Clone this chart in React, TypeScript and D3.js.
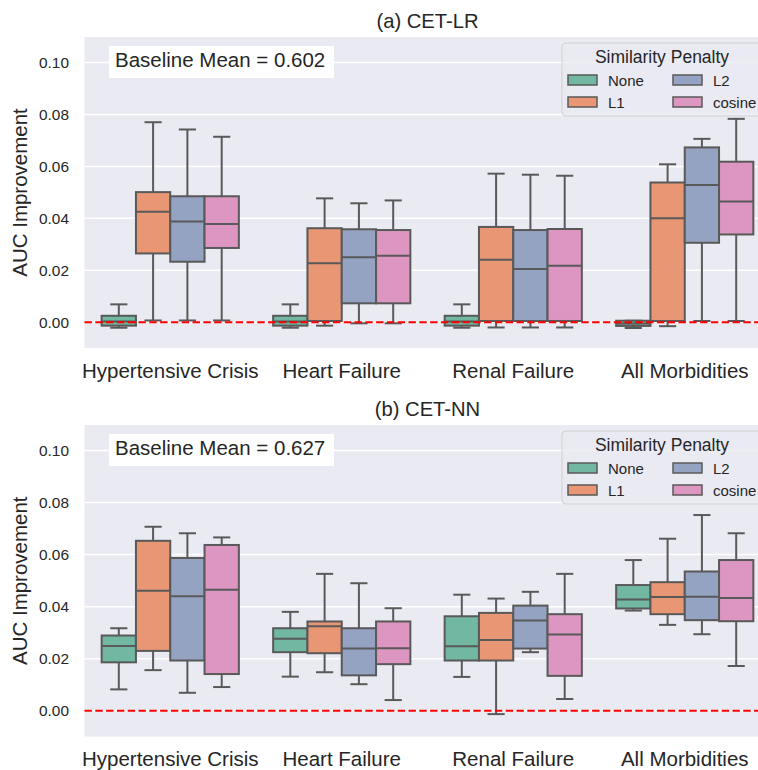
import React from 'react';
import * as d3 from 'd3';

// five-number summaries per category: [lowWhisker, q1, median, q3, highWhisker]
const categories = ['Hypertensive Crisis', 'Heart Failure', 'Renal Failure', 'All Morbidities'];
const seriesNames = ['None', 'L1', 'L2', 'cosine'];
const yTicks = [0, 0.02, 0.04, 0.06, 0.08, 0.1];

const lrNone = [
  [-0.0021, -0.0013, 0.0003, 0.0025, 0.0069],
  [-0.0021, -0.0013, 0.0003, 0.0025, 0.0069],
  [-0.0021, -0.0013, 0.0003, 0.0025, 0.0069],
  [-0.0022, -0.0014, -0.0005, 0.0006, 0.0006],
];
const lrL1 = [
  [0.0007, 0.0265, 0.0425, 0.0501, 0.077],
  [-0.0013, 0.0005, 0.0227, 0.0362, 0.0477],
  [-0.002, 0.0005, 0.0241, 0.0367, 0.0572],
  [-0.0015, 0.0005, 0.04, 0.0538, 0.0608],
];
const lrL2 = [
  [0.0007, 0.0233, 0.0388, 0.0485, 0.0742],
  [-0.0004, 0.0073, 0.025, 0.0358, 0.0458],
  [-0.002, 0.0005, 0.0205, 0.0355, 0.0568],
  [0.0005, 0.0306, 0.0528, 0.0673, 0.0706],
];
const lrCosine = [
  [0.0007, 0.0286, 0.0378, 0.0485, 0.0714],
  [-0.0004, 0.0073, 0.0256, 0.0355, 0.0469],
  [-0.002, 0.0005, 0.0218, 0.0359, 0.0564],
  [0.0005, 0.0338, 0.0465, 0.0618, 0.0783],
];

const nnNone = [
  [0.0082, 0.0186, 0.0249, 0.0289, 0.0317],
  [0.0131, 0.0225, 0.0277, 0.0317, 0.038],
  [0.013, 0.0193, 0.0248, 0.0363, 0.0446],
  [0.0385, 0.0393, 0.0427, 0.0483, 0.0579],
];
const nnL1 = [
  [0.0156, 0.023, 0.0461, 0.0653, 0.0707],
  [0.0148, 0.0221, 0.0325, 0.0343, 0.0526],
  [-0.0013, 0.0193, 0.0272, 0.0376, 0.0431],
  [0.033, 0.0371, 0.0437, 0.0494, 0.0661],
];
const nnL2 = [
  [0.0069, 0.0193, 0.044, 0.0587, 0.0682],
  [0.0102, 0.0136, 0.0239, 0.0317, 0.049],
  [0.0225, 0.0239, 0.0347, 0.0404, 0.0457],
  [0.0294, 0.0348, 0.0438, 0.0535, 0.0752],
];
const nnCosine = [
  [0.0091, 0.0141, 0.0465, 0.0637, 0.0666],
  [0.0041, 0.0179, 0.024, 0.0343, 0.0394],
  [0.0045, 0.0134, 0.0293, 0.0371, 0.0526],
  [0.0172, 0.0344, 0.0433, 0.0579, 0.0682],
];

const colors = ['#71b7a1', '#e99675', '#95a3c3', '#dc96c1'];
const lineColor = '#595959';
const textColor = '#262626';
const font = "'Liberation Sans', Arial, sans-serif";

const panels = [
  { title: '(a) CET-LR', baseline: 'Baseline Mean = 0.602', top: 37, bottom: 348, data: [lrNone, lrL1, lrL2, lrCosine] },
  { title: '(b) CET-NN', baseline: 'Baseline Mean = 0.627', top: 425, bottom: 736.5, data: [nnNone, nnL1, nnL2, nnCosine] },
];

const W = 758;
const H = 770;
const x = d3.scaleLinear().domain([-0.5, 3.5]).range([84.5, 770.5]);
const plotLeft = x(-0.5);
const plotRight = x(3.5);
const band = x(1) - x(0);
const boxW = band * 0.2;

function Panel({ p }) {
  const y = d3.scaleLinear().domain([-0.0099, 0.1098]).range([p.bottom, p.top]);
  const t = p.top;
  return (
    <g>
      <rect x={plotLeft} y={p.top} width={plotRight - plotLeft} height={p.bottom - p.top} fill="#eaeaf2" />
      {yTicks.map((v) => (
        <g key={v}>
          <line x1={plotLeft} x2={plotRight} y1={y(v)} y2={y(v)} stroke="#ffffff" strokeWidth={1.5} />
          <text x={69} y={y(v)} dy="0.35em" textAnchor="end" fontSize={15.4} fill={textColor}>
            {v.toFixed(2)}
          </text>
        </g>
      ))}
      {p.data.map((series, j) =>
        series.map((d, i) => {
          const cx = x(i - 0.3 + 0.2 * j);
          const [lo, q1, med, q3, hi] = d;
          const cap = boxW / 2;
          return (
            <g key={`${i}-${j}`}>
              <line x1={cx} x2={cx} y1={y(q3)} y2={y(hi)} stroke={lineColor} strokeWidth={2} />
              <line x1={cx} x2={cx} y1={y(q1)} y2={y(lo)} stroke={lineColor} strokeWidth={2} />
              <line x1={cx - cap / 2} x2={cx + cap / 2} y1={y(hi)} y2={y(hi)} stroke={lineColor} strokeWidth={2} />
              <line x1={cx - cap / 2} x2={cx + cap / 2} y1={y(lo)} y2={y(lo)} stroke={lineColor} strokeWidth={2} />
              <rect
                x={cx - boxW / 2}
                y={y(q3)}
                width={boxW}
                height={Math.max(0.5, y(q1) - y(q3))}
                fill={colors[j]}
                stroke={lineColor}
                strokeWidth={2}
              />
              <line x1={cx - boxW / 2} x2={cx + boxW / 2} y1={y(med)} y2={y(med)} stroke={lineColor} strokeWidth={2} />
            </g>
          );
        })
      )}
      <line x1={plotLeft} x2={plotRight} y1={y(0)} y2={y(0)} stroke="#ff0000" strokeWidth={2} strokeDasharray="7.4,3.4" />
      {categories.map((c, i) => (
        <text key={c} x={x(i)} y={p.bottom + 29.7} textAnchor="middle" fontSize={20.5} fill={textColor}>
          {c}
        </text>
      ))}
      <text x={x(1.5)} y={p.top - 9} textAnchor="middle" fontSize={20.2} fill={textColor}>
        {p.title}
      </text>
      <text
        transform={`translate(27,${(p.top + p.bottom) / 2}) rotate(-90)`}
        textAnchor="middle"
        fontSize={20.5}
        fill={textColor}
      >
        AUC Improvement
      </text>
      <rect x={109} y={t + 9} width={225} height={32} fill="#ffffff" />
      <text x={115} y={t + 29.7} fontSize={20.5} fill={textColor}>
        {p.baseline}
      </text>
      <rect x={562} y={t + 6} width={200} height={73} rx={4} fill="#eaeaf2" fillOpacity={0.8} stroke="#cfcfd4" strokeWidth={1} />
      <text x={662} y={t + 26.3} textAnchor="middle" fontSize={17.5} fill={textColor}>
        Similarity Penalty
      </text>
      {seriesNames.map((s, k) => {
        const col = Math.floor(k / 2);
        const row = k % 2;
        const px = col === 0 ? 568 : 673;
        const py = t + 38 + row * 22;
        return (
          <g key={s}>
            <rect x={px} y={py} width={29} height={10} fill={colors[k]} stroke={lineColor} strokeWidth={1.5} />
            <text x={px + 40} y={py + 10.5} fontSize={15} fill={textColor}>
              {s}
            </text>
          </g>
        );
      })}
    </g>
  );
}

export default function App() {
  return (
    <svg
      width={W}
      height={H}
      style={{ position: 'absolute', left: 0, top: 0, background: '#ffffff', fontFamily: font, overflow: 'hidden' }}
    >
      <rect x={0} y={0} width={W} height={H} fill="#ffffff" />
      {panels.map((p) => (
        <Panel key={p.title} p={p} />
      ))}
    </svg>
  );
}
